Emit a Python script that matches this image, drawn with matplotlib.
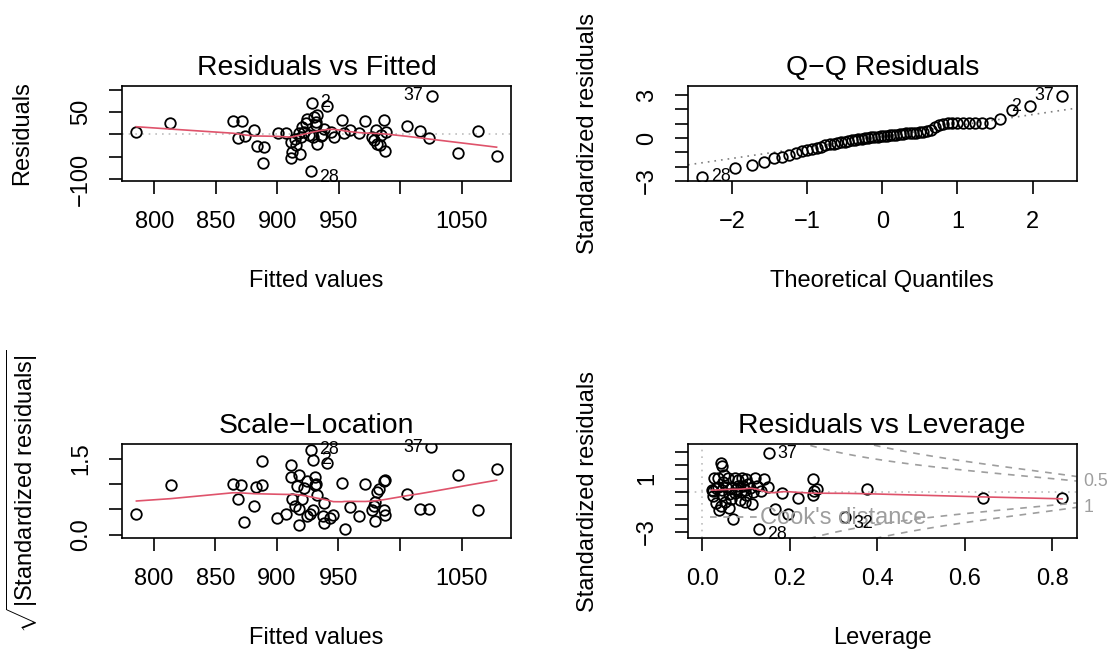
import numpy as np
import matplotlib
matplotlib.use("Agg")
import matplotlib.pyplot as plt
from statistics import NormalDist

plt.rcParams['font.family'] = ['Liberation Sans', 'DejaVu Sans']
plt.rcParams['mathtext.fontset'] = 'custom'
plt.rcParams['mathtext.rm'] = 'Liberation Sans'
plt.rcParams['mathtext.it'] = 'Liberation Sans:italic'

# ---------------- data ----------------
# Panel 1: Residuals vs Fitted (first three points are the labelled ones)
rvf_labels = ['37', '28', '2']
rvf_fitted = [1025.6, 927.6, 927.9,
              785.3, 813.0, 864.1, 871.1, 868.2, 874.1, 881.4, 883.6, 889.0, 888.5,
              900.4, 907.2, 911.3, 912.1, 911.3, 918.1, 915.6, 918.9, 920.3, 923.0,
              922.1, 925.7, 929.7, 931.1, 931.9, 932.5, 932.5, 929.2, 936.5, 940.6,
              943.3, 946.0, 952.9, 954.2, 959.1, 966.4, 971.3, 977.3, 978.6, 980.0,
              981.4, 983.5, 986.7, 988.1, 987.3, 984.0, 1005.8, 1016.0, 1023.4,
              1047.0, 1063.6, 1078.5, 917.5, 924.3, 935.2, 914.8, 938.0]
rvf_resid = [87.0, -82.7, 70.5,
             5.0, 26.5, 30.5, 30.5, -7.0, -3.0, 10.0, -25.0, -27.0, -64.0,
             4.0, 4.0, -17.0, -39.5, -52.0, -43.0, -24.0, -5.5, 17.0, 25.0,
             6.0, -1.6, 40.0, 28.6, 21.0, 44.0, -20.5, -5.5, -1.6, 62.7,
             6.0, -5.5, 32.5, 2.3, 10.0, 3.6, 31.0, -5.5, -13.0, 10.0,
             -20.5, -24.0, 32.5, 6.0, -36.0, -1.6, 19.0, 8.0, -9.0,
             -41.0, 7.5, -48.6, 3.6, 34.0, -4.0, -10.0, 12.0]

# Panel 2: Q-Q, sorted standardized residuals
qq_std_sorted = [-2.72, -2.07, -1.90, -1.67, -1.38, -1.33, -1.20, -1.03, -0.92, -0.85,
                 -0.78, -0.72, -0.62, -0.52, -0.44, -0.40, -0.35, -0.30, -0.25, -0.20,
                 -0.17, -0.13, -0.09, -0.05, -0.02, 0.01, 0.04, 0.07, 0.10, 0.12,
                 0.14, 0.16, 0.19, 0.21, 0.24, 0.27, 0.30, 0.32, 0.34, 0.36,
                 0.38, 0.42, 0.44, 0.47, 0.57, 0.78, 0.92, 0.98, 1.02, 1.03,
                 1.04, 1.04, 1.05, 1.05, 1.06, 1.08, 1.31, 1.97, 2.20, 2.96]
qq_labels = {59: '37', 58: '2', 0: '28'}

# Panel 3: Scale-Location (first three labelled)
sl_labels = ['37', '28', '2']
sl_fitted = [1025.6, 927.9, 929.2,
             785.9, 813.6, 864.1, 870.8, 868.2, 873.5, 881.4, 883.1, 888.2, 888.2,
             900.4, 907.5, 911.3, 911.3, 912.1, 916.2, 918.1, 918.1, 918.1, 920.3,
             922.1, 924.3, 927.0, 929.7, 931.1, 931.1, 931.9, 932.5, 937.4, 937.9,
             940.6, 942.8, 946.0, 952.9, 955.0, 959.1, 966.4, 971.8, 977.3, 979.4,
             980.0, 981.4, 982.7, 986.7, 987.6, 986.7, 987.6, 978.6, 1005.8, 1016.0,
             1023.4, 1047.0, 1063.6, 1078.5, 924.3, 914.8, 938.0]
sl_sqrt_abs_std = [1.72, 1.68, 1.48,
                   0.41, 0.97, 0.99, 0.97, 0.70, 0.25, 0.56, 0.93, 0.97, 1.45,
                   0.33, 0.41, 1.38, 1.13, 0.71, 0.95, 1.18, 0.51, 0.18, 0.71,
                   0.92, 0.36, 0.41, 0.49, 1.14, 0.97, 0.99, 0.79, 0.36, 0.22,
                   1.41, 0.33, 0.39, 1.02, 0.10, 0.54, 0.36, 0.99, 0.49, 0.26,
                   0.64, 0.85, 0.89, 1.05, 1.08, 0.49, 0.39, 0.56, 0.80, 0.51,
                   0.51, 1.18, 0.48, 1.30, 1.05, 0.57, 0.62]

# Panel 4: Residuals vs Leverage (first three labelled)
rvl_labels = ['37', '28', '32']
rvl_leverage = [0.152, 0.129, 0.327,
                0.823, 0.643, 0.377, 0.254, 0.254, 0.256, 0.263, 0.219, 0.183, 0.196,
                0.165, 0.070, 0.043, 0.045, 0.142,
                0.037, 0.062, 0.043, 0.113, 0.032, 0.098, 0.052, 0.085, 0.066, 0.024,
                0.045, 0.100, 0.060, 0.074, 0.088, 0.115, 0.024, 0.135, 0.021, 0.098,
                0.045, 0.077, 0.030, 0.066, 0.110, 0.150, 0.055, 0.036, 0.125, 0.081,
                0.092, 0.104, 0.047, 0.081, 0.100, 0.027, 0.058, 0.074, 0.090, 0.120,
                0.035, 0.050]
rvl_std = [2.89, -2.75, -1.88,
           -0.47, -0.47, 0.20, 0.95, -0.20, 0.05, 0.25, -0.42, -0.05, -1.68,
           -1.30, -2.05, 2.20, 1.96, 0.95,
           -1.38, -1.20, -1.03, -0.92, -0.85, -0.78, -0.72, -0.62, -0.52, -0.30,
           -0.25, -0.20, -0.13, -0.09, -0.02, 0.01, 0.07, 0.10, 0.12, 0.14,
           0.16, 0.21, 0.27, 0.30, 0.32, 0.34, 0.36, 0.38, 0.42, 0.44,
           0.47, 0.57, 0.78, 0.92, 0.98, 1.02, 1.03, 1.04, 1.04, 1.05,
           1.06, 1.31]
model_rank = 8
cook_levels = [0.5, 1.0]

# ---------------- helpers ----------------
RED = '#DF536B'
GRAY = '#BEBEBE'
GRAY50 = '#7F7F7F'
GRAY62 = '#9E9E9E'
FS = 17
LW = 1.2


def lowess(x, y, f=2 / 3, iters=3):
    x = np.asarray(x, float)
    y = np.asarray(y, float)
    o = np.argsort(x, kind='mergesort')
    x, y = x[o], y[o]
    n = len(x)
    ns = max(min(int(f * n + 1e-7), n), 2)
    rw = np.ones(n)
    ys = np.zeros(n)
    for it in range(iters + 1):
        for i in range(n):
            d = np.abs(x - x[i])
            h = np.sort(d)[ns - 1]
            w = np.zeros(n)
            if h > 0:
                m = d <= 0.999 * h
                ww = np.where(d[m] <= 0.001 * h, 1.0, (1 - (d[m] / h) ** 3) ** 3)
                w[m] = ww * rw[m]
            else:
                w[d == 0] = rw[d == 0]
            if w.sum() <= 0:
                ys[i] = y[i]
                continue
            w = w / w.sum()
            a = np.sum(w * x)
            b = np.sum(w * (x - a) ** 2)
            if h > 0 and np.sqrt(b) > 0.001 * (x[-1] - x[0]):
                bb = (x[i] - a) / b
                ys[i] = np.sum(w * (1 + bb * (x - a)) * y)
            else:
                ys[i] = np.sum(w * y)
        if it == iters:
            break
        res = y - ys
        cmad = 6 * np.median(np.abs(res))
        if cmad == 0:
            break
        r = np.abs(res)
        rw = np.where(r <= 0.001 * cmad, 1.0,
                      np.where(r <= 0.999 * cmad, (1 - (r / cmad) ** 2) ** 2, 0.0))
    return x, ys


def rlim(lo, hi):
    d = (hi - lo) * 0.04
    return lo - d, hi + d


def extendrange(lo, hi, f):
    d = (hi - lo) * f
    return lo - d, hi + d


W, H = 1113, 651
fig = plt.figure(figsize=(W / 100, H / 100), dpi=100)


def add_axes(x0, y0, x1, y1):
    ax = fig.add_axes([x0 / W, 1 - y1 / H, (x1 - x0) / W, (y1 - y0) / H])
    ax.box_px = (x0, y0, x1, y1)
    return ax


def style(ax, title, xlabel, ylabel, xt, xtl, yt, ytl):
    for s in ax.spines.values():
        s.set_linewidth(LW)
        s.set_color('black')
    ax.set_xticks(xt)
    ax.set_xticklabels(xtl)
    ax.set_yticks(yt)
    ax.set_yticklabels(ytl, rotation=90, va='center')
    ax.tick_params(direction='out', length=9.4, width=LW, labelsize=FS, pad=12,
                   top=False, right=False)
    x0, y0, x1, y1 = ax.box_px
    ax.set_title(title, fontsize=FS * 1.2, pad=8)
    fig.text((x0 + x1) / 2 / W, 1 - (y1 + 100) / H, xlabel, ha='center', va='center',
             fontsize=FS)
    fig.text((x0 - 100) / W, 1 - (y0 + y1) / 2 / H, ylabel, ha='center', va='center',
             rotation=90, fontsize=FS)


def label_points(ax, xs, ys, labs, shift_neg=False):
    xl = ax.get_xlim()
    mid = (xl[0] + xl[1]) / 2
    for x, y, lab in zip(xs, ys, labs):
        right = x <= mid
        dy = -4.5 if (shift_neg and y < 0) else 0
        ax.annotate(lab, (x, y), xytext=(6 if right else -6, dy),
                    textcoords='offset points', ha='left' if right else 'right',
                    va='center', fontsize=FS * 0.75, annotation_clip=False)


circ = dict(marker='o', ms=7.6, mfc='none', mec='black', mew=1.3, ls='none')

# ---------------- Panel 1 ----------------
ax1 = add_axes(122, 86, 511, 181)
fx = np.array(rvf_fitted)
rr = np.array(rvf_resid)
ax1.set_xlim(*rlim(fx.min(), fx.max()))
ax1.set_ylim(*rlim(*extendrange(rr.min(), rr.max(), 0.08)))
ax1.axhline(0, color=GRAY, lw=LW, ls=(0, (1, 3)))
ax1.plot(fx, rr, **circ)
sx, sy = lowess(fx, rr)
ax1.plot(sx, sy, color=RED, lw=LW)
style(ax1, 'Residuals vs Fitted', 'Fitted values', 'Residuals',
      [800, 850, 900, 950, 1000, 1050], ['800', '850', '900', '950', '', '1050'],
      [-100, -50, 0, 50, 100], ['\u2212100', '', '', '50', ''])
label_points(ax1, fx[:3], rr[:3], rvf_labels, shift_neg=True)

# ---------------- Panel 2 ----------------
ax2 = add_axes(688, 86, 1076.5, 181)
qs = np.array(qq_std_sorted)
n = len(qs)
nd = NormalDist()
tq = np.array([nd.inv_cdf((i - 0.5) / n) for i in range(1, n + 1)])
ax2.set_xlim(*rlim(tq.min(), tq.max()))
ylo, yhi = qs.min(), qs.max()
yhi = yhi + (yhi - ylo) * 0.075
ax2.set_ylim(*rlim(ylo, yhi))
q1, q3 = np.quantile(qs, [0.25, 0.75])
z1, z3 = nd.inv_cdf(0.25), nd.inv_cdf(0.75)
slope = (q3 - q1) / (z3 - z1)
icpt = q1 - slope * z1
ax2.axline((0, icpt), slope=slope, color=GRAY50, lw=LW, ls=(0, (1, 3)))
ax2.plot(tq, qs, **circ)
style(ax2, 'Q\u2212Q Residuals', 'Theoretical Quantiles', 'Standardized residuals',
      [-2, -1, 0, 1, 2], ['\u22122', '\u22121', '0', '1', '2'],
      [-3, -2, -1, 0, 1, 2, 3], ['\u22123', '', '', '0', '', '', '3'])
idx = list(qq_labels.keys())
label_points(ax2, tq[idx], qs[idx], [qq_labels[i] for i in idx])

# ---------------- Panel 3 ----------------
ax3 = add_axes(122, 444, 511, 538)
f3 = np.array(sl_fitted)
v3 = np.array(sl_sqrt_abs_std)
ax3.set_xlim(*rlim(f3.min(), f3.max()))
ax3.set_ylim(*rlim(0, v3.max()))
ax3.plot(f3, v3, **circ)
sx, sy = lowess(f3, v3)
ax3.plot(sx, sy, color=RED, lw=LW)
style(ax3, 'Scale\u2212Location', 'Fitted values',
      r'$\sqrt{|\mathrm{Standardized\ residuals}|}$',
      [800, 850, 900, 950, 1000, 1050], ['800', '850', '900', '950', '', '1050'],
      [0.0, 0.5, 1.0, 1.5], ['0.0', '', '', '1.5'])
label_points(ax3, f3[:3], v3[:3], sl_labels)

# ---------------- Panel 4 ----------------
ax4 = add_axes(688, 444, 1076.5, 538)
lv = np.array(rvl_leverage)
sr = np.array(rvl_std)
ax4.set_xlim(*rlim(0, lv.max()))
ax4.set_ylim(*rlim(*extendrange(sr.min(), sr.max(), 0.08)))
ax4.axhline(0, color=GRAY, lw=LW, ls=(0, (1, 3)))
ax4.axvline(0, color=GRAY, lw=LW, ls=(0, (1, 3)))
ax4.plot(lv, sr, **circ)
sx, sy = lowess(lv, sr)
ax4.plot(sx, sy, color=RED, lw=LW)
usr_r = ax4.get_xlim()[1]
hh = np.linspace(min(lv.min(), lv.max() / 100), usr_r, 101)
for crit in cook_levels:
    clh = np.sqrt(crit * model_rank * (1 - hh) / hh)
    ax4.plot(hh, clh, color=GRAY62, lw=LW, ls=(0, (4, 4)))
    ax4.plot(hh, -clh, color=GRAY62, lw=LW, ls=(0, (4, 4)))
xmax = min(0.99, usr_r)
ymult = np.sqrt(model_rank * (1 - xmax) / xmax)
aty = np.sqrt(np.array(cook_levels)) * ymult
for yv, lab in [(-aty[1], '1'), (aty[0], '0.5')]:
    ax4.annotate(lab, (1.0, yv), xycoords=('axes fraction', 'data'), xytext=(5, 0),
                 textcoords='offset points', ha='left', va='center',
                 fontsize=FS * 0.75, color=GRAY62, annotation_clip=False)
ax4.plot([0.056, 0.177], [0.222, 0.222], transform=ax4.transAxes, color=GRAY62,
         lw=LW, ls=(0, (4, 4)))
ax4.text(0.185, 0.215, "Cook's distance", transform=ax4.transAxes, ha='left',
         va='center', fontsize=FS, color=GRAY62)
style(ax4, 'Residuals vs Leverage', 'Leverage', 'Standardized residuals',
      [0.0, 0.2, 0.4, 0.6, 0.8], ['0.0', '0.2', '0.4', '0.6', '0.8'],
      [-3, -2, -1, 0, 1, 2, 3], ['\u22123', '', '', '', '1', '', ''])
label_points(ax4, lv[:3], sr[:3], rvl_labels, shift_neg=True)

fig.savefig('out.png', dpi=100)
